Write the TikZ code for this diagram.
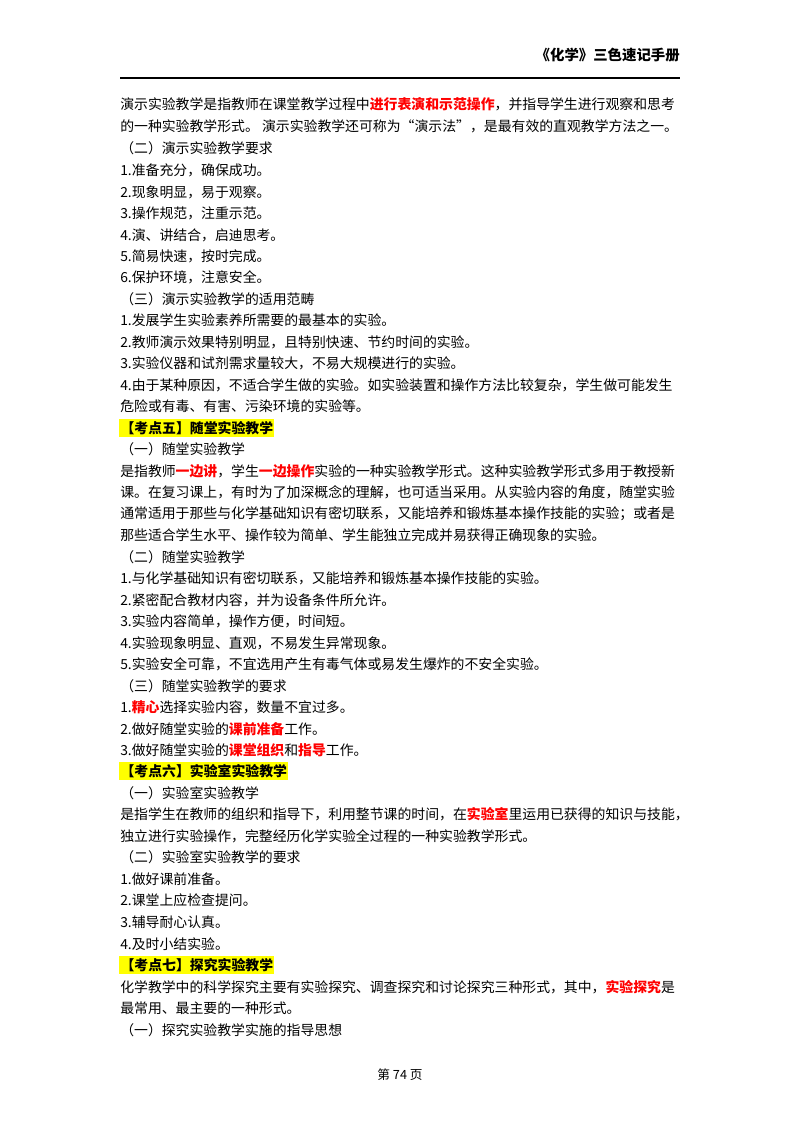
\documentclass[tikz,border=0pt]{standalone}
\usepackage{fontspec}
\setmainfont{Noto Sans CJK SC}
\definecolor{hl}{RGB}{255,255,0}
\definecolor{rd}{RGB}{255,0,0}
\newcommand{\rr}[1]{{\bfseries\color{rd}#1}}
\newcommand{\tl}[3]{\node[txt] (#1) at (120,#2) {#3};}
\begin{document}
\begin{tikzpicture}[x=0.75pt,y=-0.75pt,
  txt/.style={anchor=west,inner sep=0pt,font=\fontsize{10.4}{12}\selectfont},
  hlt/.style={txt,fill=hl,inner xsep=1pt,inner ysep=2pt,font=\fontsize{10.4}{12}\selectfont\bfseries}]
\useasboundingbox (0,0) rectangle (800,1132);
\node[anchor=east,inner sep=0pt,font=\fontsize{10.8}{12}\selectfont\bfseries] (hdr) at (680,55) {《化学》三色速记手册};
\coordinate (la) at (120,78); \coordinate (lb) at (680,78);
\draw[line width=0.8pt] (la) -- (lb);
\tl{a1}{104}{演示实验教学是指教师在课堂教学过程中\rr{进行表演和示范操作}，并指导学生进行观察和思考}
\tl{a2}{126}{的一种实验教学形式。 演示实验教学还可称为“演示法”，是最有效的直观教学方法之一。}
\tl{a3}{148}{（二）演示实验教学要求}
\tl{a4}{170}{1.准备充分，确保成功。}
\tl{a5}{192}{2.现象明显，易于观察。}
\tl{a6}{213}{3.操作规范，注重示范。}
\tl{a7}{235}{4.演、讲结合，启迪思考。}
\tl{a8}{256}{5.简易快速，按时完成。}
\tl{a9}{277}{6.保护环境，注意安全。}
\tl{a10}{299}{（三）演示实验教学的适用范畴}
\tl{a11}{320}{1.发展学生实验素养所需要的最基本的实验。}
\tl{a12}{342}{2.教师演示效果特别明显，且特别快速、节约时间的实验。}
\tl{a13}{363}{3.实验仪器和试剂需求量较大，不易大规模进行的实验。}
\tl{a14}{385}{4.由于某种原因，不适合学生做的实验。如实验装置和操作方法比较复杂，学生做可能发生}
\tl{a15}{406}{危险或有毒、有害、污染环境的实验等。}
\node[hlt] (k5) at (119,428) {【考点五】随堂实验教学};
\tl{b1}{449}{（一）随堂实验教学}
\tl{b2}{471}{是指教师\rr{一边讲}，学生\rr{一边操作}实验的一种实验教学形式。这种实验教学形式多用于教授新}
\tl{b3}{492}{课。在复习课上，有时为了加深概念的理解，也可适当采用。从实验内容的角度，随堂实验}
\tl{b4}{514}{通常适用于那些与化学基础知识有密切联系，又能培养和锻炼基本操作技能的实验；或者是}
\tl{b5}{535}{那些适合学生水平、操作较为简单、学生能独立完成并易获得正确现象的实验。}
\tl{b6}{557}{（二）随堂实验教学}
\tl{b7}{578}{1.与化学基础知识有密切联系，又能培养和锻炼基本操作技能的实验。}
\tl{b8}{600}{2.紧密配合教材内容，并为设备条件所允许。}
\tl{b9}{621}{3.实验内容简单，操作方便，时间短。}
\tl{b10}{643}{4.实验现象明显、直观，不易发生异常现象。}
\tl{b11}{664}{5.实验安全可靠，不宜选用产生有毒气体或易发生爆炸的不安全实验。}
\tl{b12}{686}{（三）随堂实验教学的要求}
\tl{b13}{707}{1.\rr{精心}选择实验内容，数量不宜过多。}
\tl{b14}{729}{2.做好随堂实验的\rr{课前准备}工作。}
\tl{b15}{750}{3.做好随堂实验的\rr{课堂组织}和\rr{指导}工作。}
\node[hlt] (k6) at (119,771) {【考点六】实验室实验教学};
\tl{c1}{793}{（一）实验室实验教学}
\tl{c2}{814}{是指学生在教师的组织和指导下，利用整节课的时间，在\rr{实验室}里运用已获得的知识与技能，}
\tl{c3}{836}{独立进行实验操作，完整经历化学实验全过程的一种实验教学形式。}
\tl{c4}{857}{（二）实验室实验教学的要求}
\tl{c5}{879}{1.做好课前准备。}
\tl{c6}{900}{2.课堂上应检查提问。}
\tl{c7}{922}{3.辅导耐心认真。}
\tl{c8}{944}{4.及时小结实验。}
\node[hlt] (k7) at (119,965) {【考点七】探究实验教学};
\tl{d1}{987}{化学教学中的科学探究主要有实验探究、调查探究和讨论探究三种形式，其中，\rr{实验探究}是}
\tl{d2}{1008}{最常用、最主要的一种形式。}
\tl{d3}{1030}{（一）探究实验教学实施的指导思想}
\node[inner sep=0pt,font=\fontsize{9.5}{11}\selectfont] (pg) at (400,1075) {第 74 页};
\end{tikzpicture}
\end{document}
